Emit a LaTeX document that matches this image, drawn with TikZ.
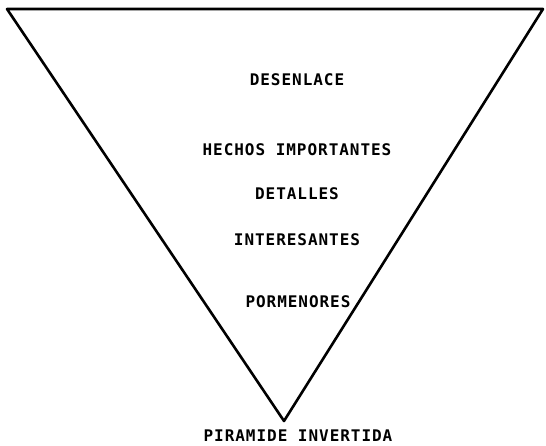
\documentclass[tikz,border=0pt]{standalone}
\usepackage{fontspec}
\newfontfamily\labelfont[LetterSpace=6]{DejaVu Sans Mono Bold}
\begin{document}
\begin{tikzpicture}[x=1pt,y=-1pt,
  lbl/.style={font=\labelfont\fontsize{16}{19}\selectfont, inner sep=0pt, anchor=center},
  edge/.style={line width=2.6pt, line join=round, line cap=round}]
\useasboundingbox (0,0) rectangle (546,445);
\coordinate (tl) at (7,9);
\coordinate (tr) at (543,9);
\coordinate (bv) at (284,421);
\draw[edge] (tl) -- (tr) -- (bv) -- cycle;
\node[lbl] (desenlace) at (297,79.5) {DESENLACE};
\node[lbl] (hechos) at (297,150) {HECHOS IMPORTANTES};
\node[lbl] (detalles) at (297,194) {DETALLES};
\node[lbl] (interesantes) at (297,240) {INTERESANTES};
\node[lbl] (pormenores) at (298,302) {PORMENORES};
\node[lbl] (titulo) at (298,435.5) {PIRAMIDE INVERTIDA};
\end{tikzpicture}
\end{document}
